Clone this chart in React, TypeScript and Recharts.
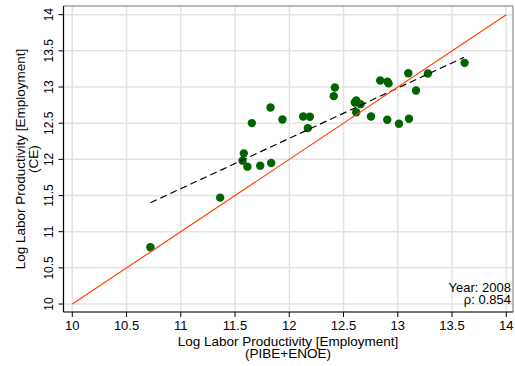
import { CartesianGrid, Label, ReferenceLine, Scatter, ScatterChart, XAxis, YAxis } from "recharts";

// log labor productivity by state, 2008
const pibeEnoe = [
  13.616, 13.097, 13.278, 12.838, 12.905, 12.915, 13.168, 12.42, 12.41, 12.617,
  12.604, 12.657, 12.617, 12.753, 12.903, 13.011, 13.103, 11.827, 11.655, 11.937,
  12.128, 12.19, 12.171, 11.581, 11.569, 11.614, 11.732, 11.833, 11.363, 10.72,
];
const ce = [
  13.334, 13.19, 13.186, 13.09, 13.075, 13.05, 12.952, 12.993, 12.874, 12.814,
  12.786, 12.763, 12.652, 12.593, 12.547, 12.492, 12.561, 12.717, 12.501, 12.552,
  12.593, 12.589, 12.432, 12.083, 11.982, 11.899, 11.913, 11.949, 11.471, 10.786,
];

// linear fit endpoints and 45 degree line
const fitX = [10.72, 13.61];
const fitY = [11.4, 13.41];
const diagX = [10, 14];
const diagY = [10, 14];

const ticks = [10, 10.5, 11, 11.5, 12, 12.5, 13, 13.5, 14];
const xDomain = [9.919, 14.062];
const yDomain = [9.89, 14.12];

const annotation = ["Year: 2008", "ρ: 0.854"];

const FONT = '"Liberation Sans", Arial, Helvetica, sans-serif';

const points = pibeEnoe.map((x, i) => ({ x, y: ce[i] }));
const fit = fitX.map((x, i) => ({ x, y: fitY[i] }));
const diag = diagX.map((x, i) => ({ x, y: diagY[i] }));

const Dot = (props: any) => <circle cx={props.cx} cy={props.cy} r={4.2} fill="#006400" />;
const NoDot = () => <g />;

const XTick = (props: any) => (
  <text x={props.x} y={330} textAnchor="middle" fontSize={13} fill="#000" fontFamily={FONT}>
    {String(props.payload.value)}
  </text>
);

const YTick = (props: any) => {
  const bx = 53;
  return (
    <text
      x={bx}
      y={props.y}
      transform={`rotate(-90, ${bx}, ${props.y})`}
      textAnchor="middle"
      fontSize={12}
      fill="#000"
      fontFamily={FONT}
    >
      {String(props.payload.value)}
    </text>
  );
};

const XTitle = () => (
  <text textAnchor="middle" fontSize={13.5} fill="#000" fontFamily={FONT}>
    <tspan x={288} y={345.5}>Log Labor Productivity [Employment]</tspan>
    <tspan x={288} y={357.5}>(PIBE+ENOE)</tspan>
  </text>
);

const YTitle = () => (
  <g fontSize={13.5} fill="#000" fontFamily={FONT}>
    <text x={25} y={159} transform="rotate(-90, 25, 159)" textAnchor="middle">
      Log Labor Productivity [Employment]
    </text>
    <text x={38} y={159} transform="rotate(-90, 38, 159)" textAnchor="middle">
      (CE)
    </text>
  </g>
);

export default function App() {
  return (
    <div style={{ position: "absolute", left: 0, top: 0, width: 515, height: 366, background: "#fff" }}>
      <ScatterChart width={515} height={366} margin={{ top: 6, right: 2, bottom: 0, left: 0 }}>
        <CartesianGrid stroke="#e3e3e3" strokeWidth={1.5} />
        <XAxis
          type="number"
          dataKey="x"
          domain={xDomain}
          ticks={ticks}
          interval={0}
          allowDataOverflow
          height={54}
          tickSize={5}
          axisLine={{ stroke: "#000", strokeWidth: 1.2 }}
          tickLine={{ stroke: "#000" }}
          tick={<XTick />}
        >
          <Label content={<XTitle />} />
        </XAxis>
        <YAxis
          type="number"
          dataKey="y"
          domain={yDomain}
          ticks={ticks}
          interval={0}
          allowDataOverflow
          width={63.5}
          tickSize={5}
          axisLine={{ stroke: "#000", strokeWidth: 1.2 }}
          tickLine={{ stroke: "#000" }}
          tick={<YTick />}
        >
          <Label content={<YTitle />} />
        </YAxis>
        <ReferenceLine y={yDomain[1]} stroke="#888" />
        <ReferenceLine x={xDomain[1]} stroke="#888" />
        <Scatter data={points} shape={<Dot />} isAnimationActive={false} />
        <Scatter
          data={fit}
          shape={<NoDot />}
          line={{ stroke: "#000", strokeWidth: 1.2, strokeDasharray: "7 4" }}
          isAnimationActive={false}
        />
        <Scatter
          data={diag}
          shape={<NoDot />}
          line={{ stroke: "#ff4500", strokeWidth: 1.2 }}
          isAnimationActive={false}
        />
      </ScatterChart>
      <div
        style={{
          position: "absolute",
          right: 4,
          top: 282,
          textAlign: "right",
          fontFamily: FONT,
          fontSize: 13,
          lineHeight: "11.5px",
          color: "#000",
        }}
      >
        {annotation.map((t) => (
          <div key={t}>{t}</div>
        ))}
      </div>
    </div>
  );
}
